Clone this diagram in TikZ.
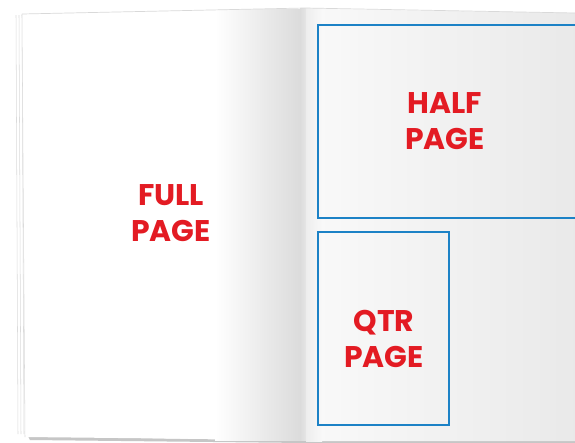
\documentclass[tikz,border=0pt]{standalone}
\usepackage{fontspec}
\usepackage{tikz}
\usetikzlibrary{positioning,calc,backgrounds}
\newfontfamily\adfont{Poppins}
\definecolor{adred}{HTML}{E31B23}
\definecolor{adblue}{HTML}{1C82C6}
\definecolor{adgray}{HTML}{555555}
\tikzset{
  slot/.style   ={draw=adblue, line width=1.1pt},
  adlabel/.style={text=adred, align=center, inner sep=0pt,
                  font=\adfont\bfseries\fontsize{17}{20.6}\selectfont},
  edge/.style   ={draw=gray!28, line width=0.3pt},
}

\begin{document}
\begin{tikzpicture}[x=0.02cm,y=-0.02cm]
    \useasboundingbox (0,0) rectangle (575,443);
    \clip (0,0) rectangle (575,443);
    \fill[white] (0,0) rectangle (575,443);
    % --- shadow under the book ---
    \fill[gray!45] (28,436) -- (305,441) -- (575,440) -- (575,443) -- (305,443) -- (30,440) -- cycle;
    % --- left page, with the stack of sheets ---
    \foreach \dx in {0,3,6}
        \draw[edge] (16+\dx,15) -- (18+\dx,434);
    \fill[white] (22,14) -- (305,8) -- (305,440) -- (25,437) -- cycle;
    \shade[left color=white, right color=gray!28] (215,9) rectangle (300,440);
    \shade[left color=gray!28, right color=gray!20] (300,8) rectangle (306,440);
    \draw[edge] (22,14) -- (25,437);
    % --- right page ---
    \shade[left color=gray!14, right color=gray!5] (306,8) rectangle (322,441);
    \shade[left color=gray!5, right color=gray!17] (322,9) -- (575,13) -- (575,441) -- (322,441) -- cycle;
    \draw[gray!30] (22,14) -- (305,8) -- (575,13);
    % --- ad slots ---
    \draw[slot] (318,25) rectangle (585,218);
    \draw[slot] (318,232) rectangle (449,425);
    % --- labels ---
    \node[adlabel] (full) at (171,213) {FULL\\PAGE};
    \node[adlabel] (half) at (445,121) {HALF\\PAGE};
    \node[adlabel] (qtr)  at (384,339) {QTR\\PAGE};
\end{tikzpicture}
\end{document}
